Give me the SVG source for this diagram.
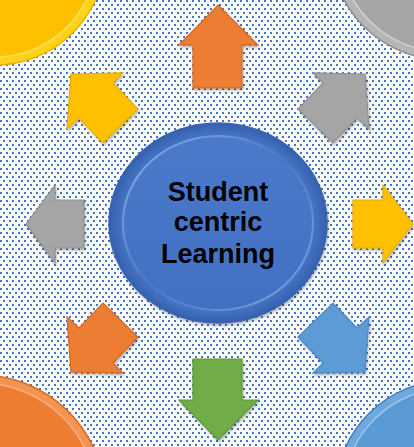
<svg xmlns="http://www.w3.org/2000/svg" width="414" height="447" viewBox="0 0 414 447">
<defs>
<pattern id="dots" width="6" height="8" patternUnits="userSpaceOnUse">
<rect x="0" y="0" width="2" height="2" fill="#4472C4"/>
<rect x="3" y="4" width="2" height="2" fill="#4472C4"/>
</pattern>
<radialGradient id="gBlue" cx="0.5" cy="0.5" r="0.5">
<stop offset="0.85" stop-color="#4A78C8"/>
<stop offset="1" stop-color="#3560AE"/>
</radialGradient>
<linearGradient id="rimBlue" x1="0" y1="0" x2="1" y2="1">
<stop offset="0" stop-color="#8FB3EA"/>
<stop offset="0.5" stop-color="#4A78C8"/>
<stop offset="1" stop-color="#7FA6E6"/>
</linearGradient>
<linearGradient id="innerBlue" x1="0" y1="0" x2="0" y2="1">
<stop offset="0" stop-color="#4C7ACB"/>
<stop offset="1" stop-color="#4270C2"/>
</linearGradient>
<filter id="sh" x="-10%" y="-10%" width="120%" height="120%">
<feGaussianBlur in="SourceAlpha" stdDeviation="1.5"/>
<feOffset dx="1" dy="2"/>
<feComponentTransfer><feFuncA type="linear" slope="0.3"/></feComponentTransfer>
<feMerge><feMergeNode/><feMergeNode in="SourceGraphic"/></feMerge>
</filter>
</defs>
<style>
.arrow{stroke-width:1.2;stroke-linejoin:miter;filter:url(#sh)}
.label{font-family:"Liberation Sans",Arial,sans-serif;font-weight:bold;font-size:27px;fill:#000;text-anchor:middle}
</style>
<rect width="414" height="447" fill="#FFFFFF"/>
<rect width="414" height="447" fill="url(#dots)"/>

<g id="corner-yellow">
<circle cx="-5" cy="-45" r="110" fill="#FFD21A" stroke="#E8B000" stroke-width="1.5"/>
<circle cx="-5" cy="-45" r="102" fill="#FFC000" stroke="#F5E05A" stroke-width="1.5"/>
</g>
<g id="corner-grey">
<circle cx="445" cy="-55" r="115" fill="#B5B5B5" stroke="#8E8E8E" stroke-width="1.5"/>
<circle cx="445" cy="-55" r="107" fill="#A5A5A5" stroke="#D0D0D0" stroke-width="1.5"/>
</g>
<g id="corner-orange">
<circle cx="-20" cy="500" r="125" fill="#F39450" stroke="#D96A20" stroke-width="1.5"/>
<circle cx="-20" cy="500" r="117" fill="#ED7D31" stroke="#F7B080" stroke-width="1.5"/>
</g>
<g id="corner-blue">
<circle cx="450" cy="495" r="115" fill="#6EA8DD" stroke="#3F7FBF" stroke-width="1.5"/>
<circle cx="450" cy="495" r="107" fill="#5B9BD5" stroke="#9CC6EE" stroke-width="1.5"/>
</g>

<g id="arrows">
<g id="arrow-up"><polygon class="arrow" points="218,5 258,45 242,45 242,88 193,88 193,45 179,45" fill="#ED7D31" stroke="#D46A24"/></g>
<g id="arrow-down"><polygon class="arrow" points="218,440 258,400 242,400 242,359 193,359 193,400 179,400" fill="#70AD47" stroke="#5E973A"/></g>
<g id="arrow-left"><polygon class="arrow" points="26,224 55,185 55,200 84,200 84,248 55,248 55,263" fill="#A5A5A5" stroke="#909090"/></g>
<g id="arrow-right"><polygon class="arrow" points="413,224 383,185 383,200 353,200 353,248 383,248 383,263" fill="#FFC000" stroke="#E6AD00"/></g>
<g id="arrow-upleft"><polygon class="arrow" points="71,74 67,129 79,118 103,143 138,109 113,83 123,73" fill="#FFC000" stroke="#E6AD00"/></g>
<g id="arrow-upright"><polygon class="arrow" points="365,74 369,129 357,118 333,143 298,109 323,83 313,73" fill="#A5A5A5" stroke="#909090"/></g>
<g id="arrow-downleft"><polygon class="arrow" points="71,372 67,317 79,328 103,303 138,337 113,363 123,373" fill="#ED7D31" stroke="#D46A24"/></g>
<g id="arrow-downright"><polygon class="arrow" points="365,372 369,317 357,328 333,303 298,337 323,363 313,373" fill="#5B9BD5" stroke="#4A88C2"/></g>
</g>

<g id="center">
<ellipse cx="218" cy="223" rx="109" ry="100" fill="url(#gBlue)" stroke="#3A64B0" stroke-width="1.5" filter="url(#sh)"/>
<ellipse cx="218" cy="223" rx="95" ry="87" fill="url(#innerBlue)" stroke="url(#rimBlue)" stroke-width="2"/>
<text class="label" x="218" y="201">Student</text>
<text class="label" x="218" y="231">centric</text>
<text class="label" x="218" y="263">Learning</text>
</g>
</svg>
